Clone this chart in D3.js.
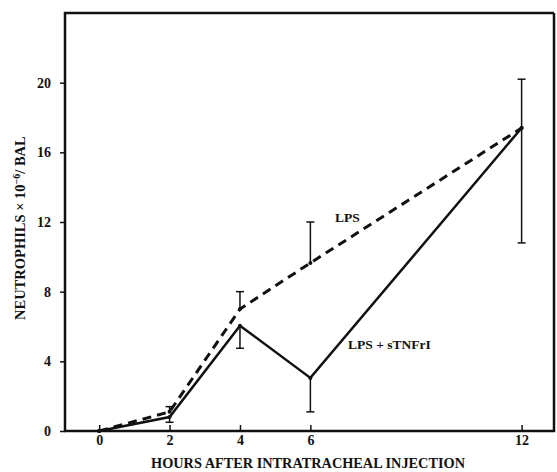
<!DOCTYPE html>
<html lang="en">
<head>
<meta charset="UTF-8">
<title>Neutrophils</title>
<style>
body{margin:0;background:#fff}
text{font-family:"Liberation Serif","DejaVu Serif",serif;font-weight:bold;fill:#111}
</style>
</head>
<body>
<script src="https://cdn.jsdelivr.net/npm/d3@7"></script>
<script>
var hours=[0,2,4,6,12]
var lpsVals=[0,1.1,7.0,9.65,17.4]
var lpsErrUp=[0,1.4,8.0,12.0,20.2]
var tnfVals=[0,0.8,6.05,3.05,17.4]
var tnfErrDown=[0,0.5,4.75,1.1,10.8]
var xTicks=[0,2,4,6,12]
var yTicks=[0,4,8,12,16,20]

var width=557,height=472
var svg=d3.select('body').append('svg').attr('width',width).attr('height',height)

var x=d3.scaleLinear().domain([-0.97,12.92]).range([65,554])
var y=d3.scaleLinear().domain([0,24]).range([431,13])

// frame: left, bottom, top, right
svg.append('path')
    .attr('d','M'+x.range()[1]+','+y(24)+'H'+x.range()[0]+'V'+y(0)+'H'+x.range()[1]+'V'+y(24))
    .attr('fill','none').attr('stroke','#111').attr('stroke-width',2.5)

var xAxis=d3.axisBottom(x).tickValues(xTicks).tickSize(-6).tickPadding(4).tickFormat(d3.format('d'))
var gx=svg.append('g').attr('transform','translate(0,'+y(0)+')').call(xAxis)
gx.select('.domain').remove()
gx.selectAll('.tick line').attr('stroke','#111').attr('stroke-width',1.5)
gx.selectAll('text').style('font-size','14px')

var yAxis=d3.axisLeft(y).tickValues(yTicks).tickSize(5).tickPadding(9)
var gy=svg.append('g').attr('transform','translate('+x.range()[0]+',0)').call(yAxis)
gy.select('.domain').remove()
gy.selectAll('.tick line').attr('stroke','#111').attr('stroke-width',1.5)
gy.selectAll('text').style('font-size','14px')

var line=d3.line().x(d=>x(d[0])).y(d=>y(d[1]))

// error bars
function errBar(xv,a,b){
    var g=svg.append('g').attr('stroke','#111').attr('stroke-width',1.5)
    g.append('line').attr('x1',x(xv)).attr('x2',x(xv)).attr('y1',y(a)).attr('y2',y(b))
    g.append('line').attr('x1',x(xv)-4).attr('x2',x(xv)+4).attr('y1',y(b)).attr('y2',y(b))
}
hours.forEach(function(h,i){
    if(i>0){
        errBar(h,lpsVals[i],lpsErrUp[i])
        errBar(h,tnfVals[i],tnfErrDown[i])
    }
})

svg.append('path').datum(hours.map((h,i)=>[h,lpsVals[i]]))
    .attr('d',line).attr('fill','none').attr('stroke','#111')
    .attr('stroke-width',3).attr('stroke-dasharray','9,6')
svg.append('path').datum(hours.map((h,i)=>[h,tnfVals[i]]))
    .attr('d',line).attr('fill','none').attr('stroke','#111').attr('stroke-width',2.5)

svg.selectAll('circle.pt').data(hours.map((h,i)=>[h,tnfVals[i]]).concat(hours.map((h,i)=>[h,lpsVals[i]])))
    .enter().append('circle').attr('class','pt')
    .attr('cx',d=>x(d[0])).attr('cy',d=>y(d[1])).attr('r',2).attr('fill','#111')

svg.append('text').attr('x',335).attr('y',222).style('font-size','13.5px').text('LPS')
svg.append('text').attr('x',348).attr('y',349).style('font-size','13.5px').text('LPS + sTNFrI')

svg.append('text').attr('x',308).attr('y',468).attr('text-anchor','middle')
    .style('font-size','14.3px').text('HOURS AFTER INTRATRACHEAL INJECTION')
svg.append('text').attr('transform','translate(25,320) rotate(-90)')
    .style('font-size','14.5px')
    .html('NEUTROPHILS × 10<tspan dy="-5" style="font-size:10px">−6</tspan><tspan dy="5">/ BAL</tspan>')
</script>
</body>
</html>
